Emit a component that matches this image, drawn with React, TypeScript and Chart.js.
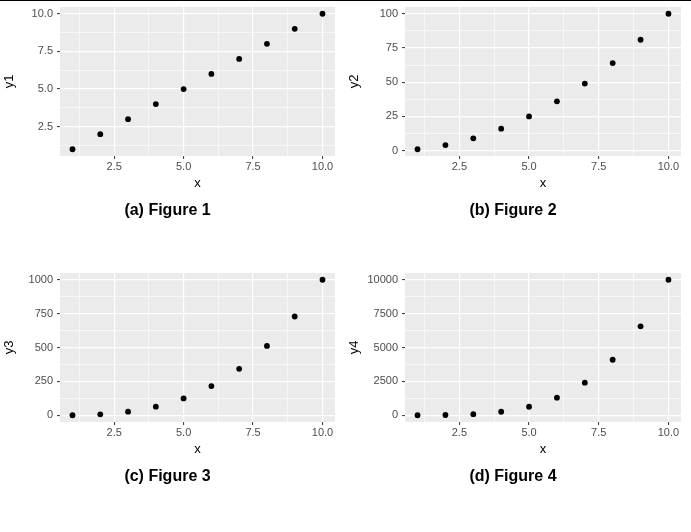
import React, { useEffect, useRef } from "react";
import { Chart, registerables } from "chart.js";

Chart.register(...registerables);

// ---- data ----
const xValues = [1, 2, 3, 4, 5, 6, 7, 8, 9, 10];
const y1Values = [1, 2, 3, 4, 5, 6, 7, 8, 9, 10];
const y2Values = [1, 4, 9, 16, 25, 36, 49, 64, 81, 100];
const y3Values = [1, 8, 27, 64, 125, 216, 343, 512, 729, 1000];
const y4Values = [1, 16, 81, 256, 625, 1296, 2401, 4096, 6561, 10000];

// ---- ticks ----
const xMajor = [2.5, 5, 7.5, 10];
const xMinor = [1.25, 3.75, 6.25, 8.75];
const xLabels = ["2.5", "5.0", "7.5", "10.0"];

const y1Major = [2.5, 5, 7.5, 10];
const y1Minor = [1.25, 3.75, 6.25, 8.75];
const y1Labels = ["2.5", "5.0", "7.5", "10.0"];

const y2Major = [0, 25, 50, 75, 100];
const y2Minor = [12.5, 37.5, 62.5, 87.5];
const y2Labels = ["0", "25", "50", "75", "100"];

const y3Major = [0, 250, 500, 750, 1000];
const y3Minor = [125, 375, 625, 875];
const y3Labels = ["0", "250", "500", "750", "1000"];

const y4Major = [0, 2500, 5000, 7500, 10000];
const y4Minor = [1250, 3750, 6250, 8750];
const y4Labels = ["0", "2500", "5000", "7500", "10000"];

const FONT = "'Liberation Sans', Arial, Helvetica, sans-serif";

function expanded(vals: number[]) {
  const lo = Math.min(...vals);
  const hi = Math.max(...vals);
  const pad = (hi - lo) * 0.05;
  return [lo - pad, hi + pad];
}

function axisOpts(
  major: number[],
  minor: number[],
  labels: string[],
  vals: number[],
  title: string,
  isX: boolean
) {
  const [min, max] = expanded(vals);
  const isMajor = (v: any) => major.includes(v);
  return {
    type: "linear",
    position: isX ? "bottom" : "left",
    min,
    max,
    afterBuildTicks: (scale: any) => {
      scale.ticks = [...major, ...minor]
        .sort((a, b) => a - b)
        .map((v) => ({ value: v }));
    },
    afterFit: (scale: any) => {
      if (isX) scale.height = 40;
      else scale.width = 60;
      scale.paddingTop = 0;
      scale.paddingBottom = 0;
      scale.paddingLeft = 0;
      scale.paddingRight = 0;
    },
    border: { display: false },
    grid: {
      color: "#FFFFFF",
      lineWidth: (ctx: any) => (isMajor(ctx.tick?.value) ? 1.2 : 0.6),
      tickColor: (ctx: any) =>
        isMajor(ctx.tick?.value) ? "#333333" : "rgba(0,0,0,0)",
      tickWidth: 1,
      tickLength: 3,
      drawTicks: true,
    },
    ticks: {
      autoSkip: false,
      maxRotation: 0,
      minRotation: 0,
      padding: isX ? 1 : 4,
      color: "#4D4D4D",
      font: { family: FONT, size: 11 },
      callback: (value: any) => {
        const i = major.indexOf(value);
        return i >= 0 ? labels[i] : "";
      },
    },
    title: {
      display: true,
      text: title,
      color: "#000000",
      font: { family: FONT, size: 13 },
      padding: isX ? { top: 0, bottom: 5 } : { top: 2, bottom: 0 },
    },
  };
}

const panelBg = {
  id: "panelBg",
  beforeDraw(chart: any) {
    const { ctx, chartArea } = chart;
    ctx.save();
    ctx.fillStyle = "#EBEBEB";
    ctx.fillRect(
      chartArea.left,
      chartArea.top,
      chartArea.right - chartArea.left,
      chartArea.bottom - chartArea.top
    );
    ctx.restore();
  },
};

type PanelProps = {
  width: number;
  yValues: number[];
  yMajor: number[];
  yMinor: number[];
  yLabels: string[];
  yTitle: string;
  caption: string;
};

function Panel(props: PanelProps) {
  const ref = useRef<HTMLCanvasElement | null>(null);
  useEffect(() => {
    if (!ref.current) return;
    const chart = new Chart(ref.current, {
      type: "scatter",
      data: {
        datasets: [
          {
            data: xValues.map((x, i) => ({ x, y: props.yValues[i] })),
            backgroundColor: "#000000",
            borderColor: "#000000",
            pointRadius: 2.9,
            pointBorderWidth: 0,
            pointHoverRadius: 2.9,
          },
        ],
      },
      options: {
        responsive: false,
        animation: false,
        devicePixelRatio: 1,
        layout: { padding: { top: 7, right: 10, left: 0, bottom: 45.8 } },
        plugins: {
          legend: { display: false },
          tooltip: { enabled: false },
          title: {
            display: true,
            position: "bottom",
            text: props.caption,
            color: "#000000",
            font: { family: FONT, size: 16, weight: "bold" },
            padding: { top: 5, bottom: 0 },
          },
        },
        scales: {
          x: axisOpts(xMajor, xMinor, xLabels, xValues, "x", true) as any,
          y: axisOpts(
            props.yMajor,
            props.yMinor,
            props.yLabels,
            props.yValues,
            props.yTitle,
            false
          ) as any,
        },
      } as any,
      plugins: [panelBg],
    });
    return () => chart.destroy();
  }, []);
  return (
    <canvas
      ref={ref}
      width={props.width}
      height={266}
      style={{ display: "block", width: props.width, height: 266 }}
    />
  );
}

export default function App() {
  return (
    <div
      style={{
        position: "absolute",
        left: 0,
        top: 0,
        width: 691,
        height: 532,
        background: "#FFFFFF",
      }}
    >
      <div style={{ display: "flex" }}>
        <Panel width={345} yValues={y1Values} yMajor={y1Major} yMinor={y1Minor} yLabels={y1Labels} yTitle="y1" caption="(a) Figure 1" />
        <Panel width={346} yValues={y2Values} yMajor={y2Major} yMinor={y2Minor} yLabels={y2Labels} yTitle="y2" caption="(b) Figure 2" />
      </div>
      <div style={{ display: "flex" }}>
        <Panel width={345} yValues={y3Values} yMajor={y3Major} yMinor={y3Minor} yLabels={y3Labels} yTitle="y3" caption="(c) Figure 3" />
        <Panel width={346} yValues={y4Values} yMajor={y4Major} yMinor={y4Minor} yLabels={y4Labels} yTitle="y4" caption="(d) Figure 4" />
      </div>
      <div
        style={{
          position: "absolute",
          left: 0,
          top: 0,
          width: 691,
          height: 1,
          background: "#000000",
        }}
      />
    </div>
  );
}
